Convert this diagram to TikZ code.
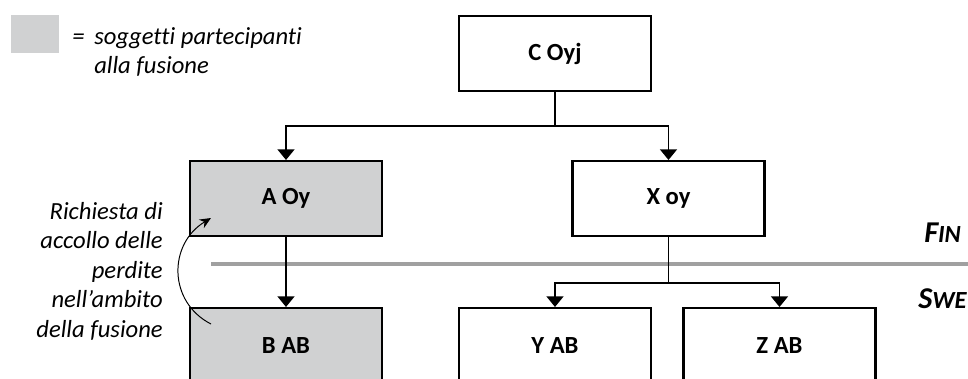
\documentclass[tikz,border=0pt]{standalone}
\usepackage{fontspec}
\setmainfont[Ligatures=NoCommon]{Carlito}
\usetikzlibrary{arrows.meta}
\definecolor{mergegray}{RGB}{208,209,210}
\definecolor{linegray}{RGB}{160,160,160}
\tikzset{
  company/.style={draw,line width=1.6pt,minimum width=4.8cm,minimum height=1.87cm,inner sep=0pt,
    font=\fontsize{17.5}{21}\selectfont\bfseries},
  merged/.style={company,fill=mergegray},
  plain/.style={line width=1pt},
  link/.style={plain,-{Triangle[width=12pt,length=7.5pt]}},
  note/.style={inner sep=0pt,font=\fontsize{17.5}{21}\selectfont\itshape},
  country/.style={inner sep=0pt,anchor=base west,font=\fontsize{21.5}{25}\selectfont\bfseries\itshape},
}
\begin{document}
\begin{tikzpicture}[x=0.025cm,y=-0.025cm]
    \useasboundingbox (0,0) rectangle (968,378);
    % legend
    \fill[mergegray] (11,15) rectangle (59,53);
    \node[note,anchor=base west] (eq) at (72,44) {=};
    \node[note,anchor=base west] (leg1) at (94,44) {soggetti partecipanti};
    \node[note,anchor=base west] (leg2) at (94,73) {alla fusione};
    % border between the two countries
    \draw[linegray,line width=3.5pt] (211,264) -- (975,264);
    \node[country] (fin) at (924,242) {F\fontsize{17.5}{21}\selectfont IN};
    \node[country] (swe) at (918,308) {S\fontsize{17.5}{21}\selectfont WE};
    % companies
    \node[company] (c) at (555,53.5) {C Oyj};
    \node[merged] (a) at (286,198.5) {A Oy};
    \node[company] (x) at (668.5,198.5) {X oy};
    \node[merged] (b) at (286,345.5) {B AB};
    \node[company] (y) at (555,345.5) {Y AB};
    \node[company] (z) at (779.5,345.5) {Z AB};
    % ownership
    \coordinate (cj) at (555,126);
    \coordinate (xj) at (668.5,283);
    \draw[plain] (c.south) -- (cj);
    \draw[link] (cj) -| (a.north);
    \draw[link] (cj) -| (x.north);
    \draw[link] (a) -- (b);
    \draw[plain] (x.south) -- (xj);
    \draw[link] (xj) -| (y.north);
    \draw[link] (xj) -| (z.north);
    % loss request
    \coordinate (acc0) at (211,324);
    \coordinate (acc1) at (211,218);
    \draw[line width=0.7pt,-{Stealth[length=8pt,width=7pt]}] (acc0) .. controls (168,302) and (168,244) .. (acc1);
    \node[note,align=right,anchor=north east] (req) at (163,202)
        {Richiesta di\\accollo delle\\perdite\\nell’ambito\\della fusione};
\end{tikzpicture}
\end{document}
